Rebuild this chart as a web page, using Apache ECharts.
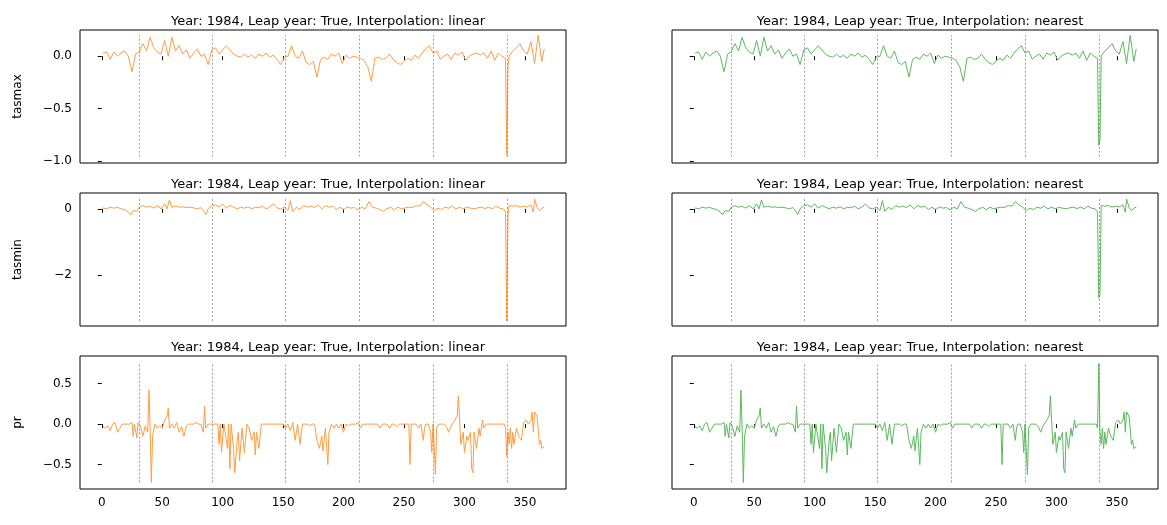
<!DOCTYPE html>
<html><head><meta charset="utf-8">
<script src="https://cdn.jsdelivr.net/npm/echarts@6/dist/echarts.min.js"></script>
<style>html,body{margin:0;background:#fff}#c{width:1167px;height:525px}</style>
</head><body><div id="c"></div>
<script>
// day boundaries drawn as dotted lines
var monthEdges = [31, 91, 152, 213, 274, 335];
var xTicks = [0, 50, 100, 150, 200, 250, 300, 350];

var tasmaxDays = [1,4,7,10,13,16,19,22,25,28,31,34,37,40,43,46,49,52,55,58,61,64,67,70,73,76,79,82,85,88,91,94,97,100,103,106,109,112,115,118,121,124,127,130,133,136,139,142,145,148,151,154,157,160,163,166,169,172,175,178,181,184,187,190,193,196,199,202,205,208,211,214,217,220,223,226,229,232,235,238,241,244,247,250,253,256,259,262,265,268,271,274,277,280,283,286,289,292,295,298,301,304,307,310,313,316,319,322,325,328,331,334,335,336,337,340,343,346,349,352,355,358,361,364,366];
var tasmaxLinear = [.03,.04,-.03,.04,0,.03,.05,0,-.15,.02,.04,.12,.05,.18,.08,.04,.02,.15,0,.18,.05,.1,.02,.06,-.02,.03,.07,0,.02,-.08,.06,.08,.02,.06,.1,.06,.02,0,-.01,.02,-.01,.01,-.02,.02,0,.03,-.01,.01,-.03,-.08,-.01,0,.1,0,-.02,.05,-.06,-.08,-.05,-.2,-.03,-.01,-.03,.02,0,.03,-.07,.01,-.02,0,-.01,-.02,-.04,-.1,-.24,-.02,-.01,-.03,-.02,.02,-.03,-.06,-.08,-.05,-.02,-.04,.01,-.02,.03,.07,.1,.03,.05,-.03,0,.02,-.03,.03,.01,.04,-.04,0,.02,.03,.01,.03,-.02,.05,-.04,.03,0,-.02,-.95,-.1,0,.05,.08,.12,.05,.02,.14,-.07,.2,-.05,.07];
var tasmaxNearest = [.03,.04,-.03,.04,0,.03,.05,0,-.15,.02,.04,.12,.05,.18,.08,.04,.02,.15,0,.18,.05,.1,.02,.06,-.02,.03,.07,0,.02,-.08,.06,.08,.02,.06,.1,.06,.02,0,-.01,.02,-.01,.01,-.02,.02,0,.03,-.01,.01,-.03,-.08,-.01,0,.1,0,-.02,.05,-.06,-.08,-.05,-.2,-.03,-.01,-.03,.02,0,.03,-.07,.01,-.02,0,-.01,-.02,-.04,-.1,-.24,-.02,-.01,-.03,-.02,.02,-.03,-.06,-.08,-.05,-.02,-.04,.01,-.02,.03,.07,.1,.03,.05,-.03,0,.02,-.03,.03,.01,.04,-.04,0,.02,.03,.01,.03,-.02,.05,-.04,.03,0,-.02,-.85,-.8,0,.05,.08,.12,.05,.02,.14,-.07,.2,-.05,.07];

var tasminDays = [1,4,7,10,13,16,19,22,24,26,29,31,34,37,40,43,46,49,52,54,56,58,61,64,67,70,73,76,79,82,84,86,88,91,94,97,100,103,106,109,112,115,118,121,124,127,130,133,136,139,142,145,148,151,154,156,158,161,164,167,170,173,176,179,182,185,188,191,194,197,200,203,206,209,212,215,218,221,224,227,230,233,236,239,242,245,248,251,254,257,260,263,266,269,272,275,278,281,284,287,290,293,296,299,302,305,308,311,314,317,320,323,326,329,332,334,335,336,337,340,343,346,349,352,355,357,358,360,362,364,366];
var tasminLinear = [.03,0,.05,.02,.05,0,-.02,-.1,-.18,-.05,-.08,.05,.1,.05,.08,.02,.1,0,.15,0,.27,.05,.08,.05,.06,.04,.05,.03,0,.04,-.05,-.17,0,.1,.12,.05,.15,.02,.1,.05,0,.05,.02,.06,0,.05,.03,.08,0,.05,.15,.03,0,.05,-.05,.25,-.08,.05,-.02,.1,.05,.08,.04,.12,0,.1,.05,.08,-.02,.05,-.03,.06,.02,.04,-.03,.05,0,.22,.05,.02,-.02,-.08,0,.05,-.03,.05,0,.03,.05,.04,.1,.08,.22,.12,.05,-.05,.02,-.02,.05,.02,.08,0,.05,0,.05,.02,0,.03,.05,.01,.05,0,.08,.02,0,-.1,-3.4,-.2,.1,.08,.1,.05,.08,.06,.12,-.1,.3,.05,-.05,.02,.05];
var tasminNearest = [.03,0,.05,.02,.05,0,-.02,-.1,-.18,-.05,-.08,.05,.1,.05,.08,.02,.1,0,.15,0,.27,.05,.08,.05,.06,.04,.05,.03,0,.04,-.05,-.17,0,.1,.12,.05,.15,.02,.1,.05,0,.05,.02,.06,0,.05,.03,.08,0,.05,.15,.03,0,.05,-.05,.25,-.08,.05,-.02,.1,.05,.08,.04,.12,0,.1,.05,.08,-.02,.05,-.03,.06,.02,.04,-.03,.05,0,.22,.05,.02,-.02,-.08,0,.05,-.03,.05,0,.03,.05,.04,.1,.08,.22,.12,.05,-.05,.02,-.02,.05,.02,.08,0,.05,0,.05,.02,0,.03,.05,.01,.05,0,.08,.02,0,-.1,-2.7,-2.6,.1,.08,.1,.05,.08,.06,.12,-.1,.3,.05,-.05,.02,.05];

var prDays = [1,3,5,7,9,11,13,15,17,19,21,23,25,26,27,28,29,30,31,32,34,36,38,39,40,41,42,44,46,48,50,52,54,55,56,58,60,62,64,66,68,70,72,74,76,78,80,82,84,85,86,88,90,92,94,96,97,98,99,101,102,104,105,106,107,109,110,112,113,114,116,118,120,122,124,126,127,128,130,132,134,140,150,152,154,156,158,160,162,164,166,170,172,174,176,178,180,182,183,185,187,188,190,192,194,196,198,200,202,204,206,210,212,214,216,220,228,230,232,234,236,238,240,242,244,246,250,252,254,255,256,258,260,262,264,266,267,268,270,272,273,274,275,276,277,279,281,283,285,287,288,290,292,293,294,295,296,297,299,300,302,303,305,306,307,308,310,312,313,315,316,318,320,324,330,333,334,335,336,337,338,339,340,341,343,345,347,349,351,353,355,356,357,358,360,361,362,363,364,366];
var prLinear = [-.03,-.05,-.02,-.08,0,.02,-.1,-.05,0,0,0,0,.02,-.15,0,0,-.17,.02,0,-.03,-.15,-.02,-.1,.42,-.05,-.72,-.15,0,-.05,-.02,-.05,.05,.1,.2,-.05,0,-.05,.02,-.1,-.03,-.15,-.02,0,0,0,.02,0,0,-.1,.22,-.05,0,0,0,0,0,-.25,0,-.35,0,-.1,-.3,0,-.55,0,-.3,-.6,-.2,-.1,-.45,-.05,-.35,0,-.05,-.2,-.1,-.38,-.1,-.3,0,0,0,0,-.05,0,-.08,.02,-.2,0,-.25,0,0,-.02,0,0,-.2,-.3,-.15,-.33,-.05,-.5,-.1,0,-.05,0,-.05,0,-.1,0,-.02,0,0,.02,-.05,0,0,0,-.05,0,0,0,-.05,0,0,-.03,0,0,0,0,-.5,0,0,0,-.05,0,-.2,-.05,0,0,-.1,-.35,0,.02,-.62,-.05,0,0,0,-.03,-.1,-.05,0,.05,.03,.1,.35,.05,-.25,-.1,-.35,-.15,-.2,-.1,-.55,-.6,-.1,-.3,-.05,-.15,.05,-.05,0,0,0,0,0,-.05,-.4,-.1,-.25,-.05,-.3,-.1,-.25,-.05,-.15,-.2,.02,.05,0,.05,.15,-.1,.15,.1,-.05,-.25,-.2,-.3,-.28];
var prNearest = [-.03,-.05,-.02,-.08,0,.02,-.1,-.05,0,0,0,0,.02,-.15,0,0,-.17,.02,0,-.03,-.15,-.02,-.1,.42,-.05,-.72,-.15,0,-.05,-.02,-.05,.05,.1,.2,-.05,0,-.05,.02,-.1,-.03,-.15,-.02,0,0,0,.02,0,0,-.1,.22,-.05,0,0,0,0,0,-.25,0,-.35,0,-.1,-.3,0,-.55,0,-.3,-.6,-.2,-.1,-.45,-.05,-.35,0,-.05,-.2,-.1,-.38,-.1,-.3,0,0,0,0,-.05,0,-.08,.02,-.2,0,-.25,0,0,-.02,0,0,-.2,-.3,-.15,-.33,-.05,-.5,-.1,0,-.05,0,-.05,0,-.1,0,-.02,0,0,.02,-.05,0,0,0,-.05,0,0,0,-.05,0,0,-.03,0,0,0,0,-.5,0,0,0,-.05,0,-.2,-.05,0,0,-.1,-.35,0,.02,-.62,-.05,0,0,0,-.03,-.1,-.05,0,.05,.03,.1,.35,.05,-.25,-.1,-.35,-.15,-.2,-.1,-.55,-.6,-.1,-.3,-.05,-.15,.05,-.05,0,0,0,0,0,-.05,.75,-.1,-.25,-.05,-.3,-.1,-.25,-.05,-.15,-.2,.02,.05,0,.05,.15,-.1,.15,.1,-.05,-.25,-.2,-.3,-.28];

var rows = [
  {name: 'tasmax', days: tasmaxDays, left: tasmaxLinear, right: tasmaxNearest, min: -1.02, max: 0.25, ticks: [-1, -0.5, 0], dec: 1, lo: -0.96, hi: 0.2},
  {name: 'tasmin', days: tasminDays, left: tasminLinear, right: tasminNearest, min: -3.55, max: 0.48, ticks: [-2, 0], dec: 0, lo: -3.4, hi: 0.3},
  {name: 'pr', days: prDays, left: prLinear, right: prNearest, min: -0.8, max: 0.84, ticks: [-0.5, 0, 0.5], dec: 1, lo: -0.72, hi: 0.75}
];
var tops = [30, 193, 356], h = 133;
var lefts = [80, 672], w = 486;
var colors = ['#ff9c40', '#5cb85c'];
var interp = ['linear', 'nearest'];

var grid = [], xAxis = [], yAxis = [], series = [], title = [];
rows.forEach(function (r, i) {
  [0, 1].forEach(function (j) {
    var k = i * 2 + j;
    grid.push({left: lefts[j], top: tops[i], width: w, height: h, show: true, borderColor: '#000', borderWidth: 1});
    title.push({text: 'Year: 1984, Leap year: True, Interpolation: ' + interp[j], left: lefts[j] + w / 2, top: tops[i] - 20, textAlign: 'center',
      textStyle: {fontSize: 13, fontWeight: 'normal', color: '#000', fontFamily: 'DejaVu Sans'}});
    xAxis.push({type: 'value', gridIndex: k, min: -18, max: 384, splitLine: {show: false},
      axisLine: {show: false},
      axisTick: {show: true, length: 4, lineStyle: {color: '#000'}, customValues: xTicks},
      axisLabel: {show: i === 2, customValues: xTicks, color: '#000', fontSize: 12, fontFamily: 'DejaVu Sans'}});
    yAxis.push({type: 'value', gridIndex: k, min: r.min, max: r.max, splitLine: {show: false},
      axisLine: {show: false},
      name: j === 0 ? r.name : '', nameLocation: 'middle', nameGap: 56,
      nameTextStyle: {fontSize: 12, color: '#000', fontFamily: 'DejaVu Sans'},
      axisTick: {show: true, length: 4, lineStyle: {color: '#000'}, customValues: r.ticks},
      axisLabel: {show: j === 0, customValues: r.ticks, color: '#000', fontSize: 12, fontFamily: 'DejaVu Sans',
        formatter: function (v) { return v.toFixed(r.dec).replace('-', '\u2212'); }}});
    var vals = j === 0 ? r.left : r.right;
    series.push({type: 'line', xAxisIndex: k, yAxisIndex: k, symbol: 'none', animation: false,
      data: r.days.map(function (d, n) { return [d, vals[n]]; }),
      lineStyle: {width: 1, color: colors[j]}, itemStyle: {color: colors[j]},
      markLine: {symbol: 'none', silent: true, label: {show: false}, animation: false,
        lineStyle: {type: [2, 2], color: '#777', width: 0.7},
        data: monthEdges.map(function (m) { return [{coord: [m, r.lo]}, {coord: [m, r.hi]}]; })}});
  });
});

var chart = echarts.init(document.getElementById('c'));
chart.setOption({animation: false, title: title, grid: grid, xAxis: xAxis, yAxis: yAxis, series: series});
</script></body></html>
